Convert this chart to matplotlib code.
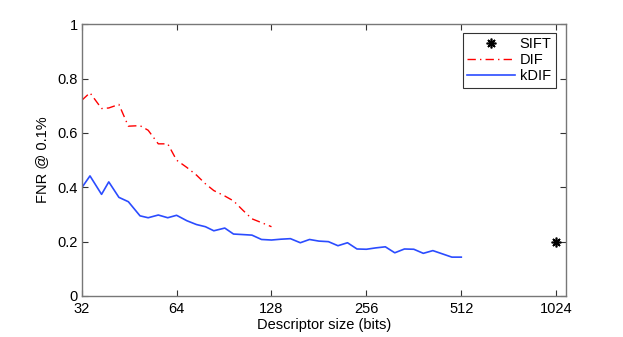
import matplotlib
matplotlib.use("Agg")
import matplotlib.pyplot as plt
from matplotlib.ticker import FixedLocator, NullLocator

plt.rcParams['font.family'] = ['Liberation Sans', 'DejaVu Sans']

# Descriptor sizes (bits)
sizes = [32, 34, 37, 39, 42, 45, 49, 52, 56, 60, 64, 69, 74, 79, 84, 91, 97,
         104, 111, 119, 128, 137, 147, 158, 169, 181, 194, 208, 223, 239, 256,
         274, 294, 315, 338, 362, 388, 416, 446, 478, 512]

kdif = [0.398, 0.442, 0.374, 0.420, 0.363, 0.347, 0.295, 0.288, 0.298, 0.288,
        0.297, 0.277, 0.263, 0.255, 0.240, 0.250, 0.228, 0.226, 0.224, 0.208,
        0.206, 0.209, 0.211, 0.196, 0.208, 0.202, 0.200, 0.185, 0.196, 0.173,
        0.172, 0.177, 0.181, 0.159, 0.173, 0.172, 0.157, 0.167, 0.155, 0.143,
        0.143]

dif_sizes = sizes[:21]
dif = [0.720, 0.748, 0.690, 0.692, 0.705, 0.625, 0.627, 0.610, 0.560, 0.560,
       0.500, 0.473, 0.445, 0.413, 0.388, 0.368, 0.350, 0.315, 0.284, 0.270,
       0.255]

sift_size = [1024]
sift = [0.2]

xticks = [32, 64, 128, 256, 512, 1024]
yticks = [0, 0.2, 0.4, 0.6, 0.8, 1]
ytick_labels = ['0', '0.2', '0.4', '0.6', '0.8', '1']

fig = plt.figure(figsize=(6.23, 3.37), dpi=100)
ax = fig.add_axes([0.1311, 0.1217, 0.9085 - 0.1311, 0.9279 - 0.1217])

ax.plot(sift_size, sift, linestyle='none', marker=(8, 2, 0), color='black',
        markersize=7, markeredgewidth=1.2, label='SIFT')
ax.plot(dif_sizes, dif, color='#ff0000', linewidth=1.0,
        linestyle=(0, (6, 3, 1, 3)), label='DIF')
ax.plot(sizes, kdif, color='#2b4cff', linewidth=1.2, label='kDIF')

ax.set_xscale('log', base=2)
ax.set_xlim(32, 1100)
ax.set_ylim(0, 1)
ax.xaxis.set_major_locator(FixedLocator(xticks))
ax.xaxis.set_minor_locator(NullLocator())
ax.set_xticklabels([str(t) for t in xticks])
ax.set_yticks(yticks)
ax.set_yticklabels(ytick_labels)

for s in ax.spines.values():
    s.set_color('#777777')
    s.set_linewidth(1.0)
ax.tick_params(direction='in', top=True, right=True, length=4, width=0.8,
               color='#333333', labelsize=10.5)
ax.tick_params(axis='x', pad=4.5)
ax.tick_params(axis='y', pad=3)

ax.set_xlabel('Descriptor size (bits)', fontsize=10.5, labelpad=1)
ax.set_ylabel('FNR @ 0.1%', fontsize=10.5, labelpad=6)

leg = ax.legend(loc='upper right', bbox_to_anchor=(0.985, 0.98), fontsize=10.5,
                frameon=True, fancybox=False, handlelength=3.3,
                borderpad=0.3, labelspacing=0.15, handletextpad=0.3,
                borderaxespad=0.2)
leg.get_frame().set_edgecolor('black')
leg.get_frame().set_linewidth(0.8)

fig.savefig('out.png', dpi=100)
